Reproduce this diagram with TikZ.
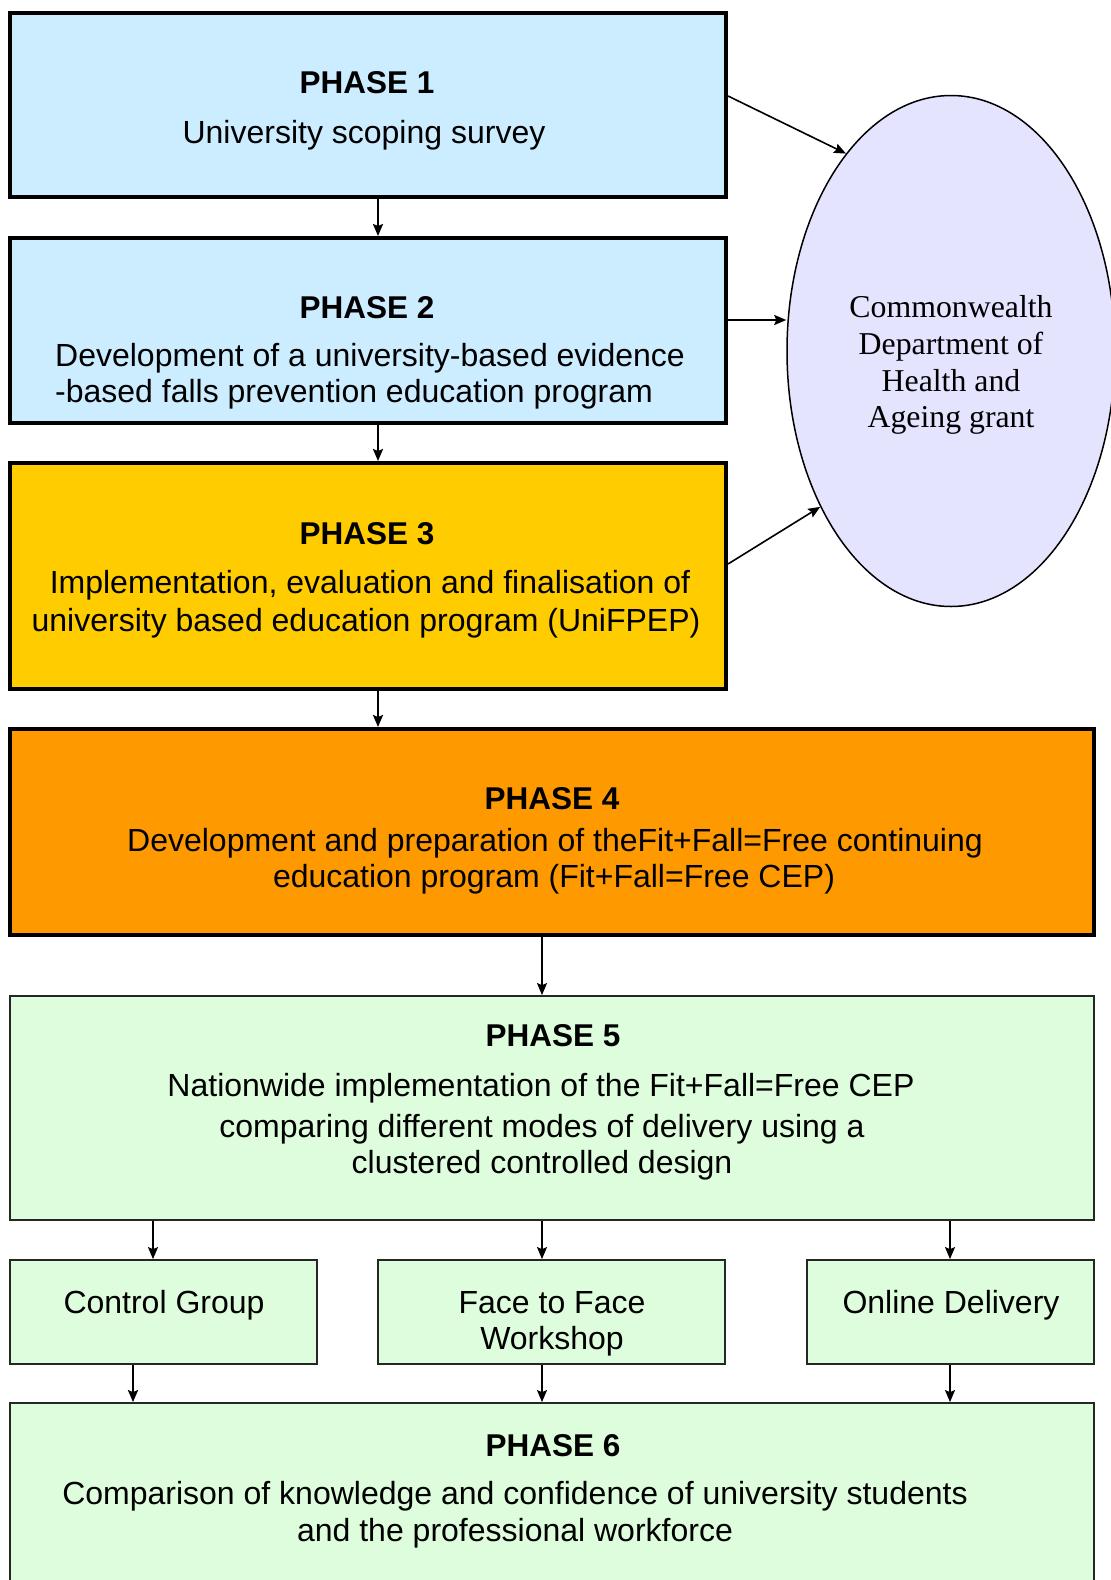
\documentclass[tikz,border=0pt]{standalone}
\usepackage{fontspec}
\setmainfont{Liberation Sans}
\newfontfamily\ellfont{Liberation Serif}
\usetikzlibrary{arrows.meta,shapes.geometric}

\definecolor{phaseblue}{HTML}{CCECFF}
\definecolor{phasegold}{HTML}{FFCC00}
\definecolor{phaseorange}{HTML}{FF9900}
\definecolor{phasegreen}{HTML}{DDFDDD}
\definecolor{grantlilac}{HTML}{E4E4FF}

\tikzset{
  heavybox/.style={draw=black, line width=4pt, rectangle, inner sep=0pt},
  lightbox/.style={draw=black!85, line width=1.8pt, rectangle, inner sep=0pt, fill=phasegreen},
  boxtext/.style={anchor=base, inner sep=0pt, font=\fontsize{32}{36}\selectfont},
  phasetitle/.style={boxtext, font=\fontsize{31.5}{36}\selectfont\bfseries},
  granttext/.style={anchor=base, inner sep=0pt, font=\fontsize{31.8}{36}\selectfont\ellfont},
  arr/.style={line width=2pt, -{Stealth[length=12pt,width=10pt,inset=2pt]}},
  thinarr/.style={line width=1.6pt, -{Stealth[length=12pt,width=10pt,inset=2pt]}},
}

\begin{document}
\begin{tikzpicture}[x=1pt,y=-1pt]
\clip (0,0) rectangle (1111,1580);
\fill[white] (0,0) rectangle (1111,1580);

% phase boxes
\node[heavybox, fill=phaseblue, minimum width=716pt, minimum height=184pt] (p1) at (368,105) {};
\node[heavybox, fill=phaseblue, minimum width=716pt, minimum height=185pt] (p2) at (368,330.5) {};
\node[heavybox, fill=phasegold, minimum width=716pt, minimum height=226pt] (p3) at (368,576) {};
\node[heavybox, fill=phaseorange, minimum width=1084pt, minimum height=206pt] (p4) at (552,832) {};
\node[lightbox, minimum width=1084pt, minimum height=224pt] (p5) at (552,1108) {};
\node[lightbox, minimum width=307pt, minimum height=104pt] (c1) at (163.5,1312) {};
\node[lightbox, minimum width=347pt, minimum height=104pt] (c2) at (551.5,1312) {};
\node[lightbox, minimum width=287pt, minimum height=104pt] (c3) at (950.5,1312) {};
\node[lightbox, minimum width=1084pt, minimum height=217pt] (p6) at (552,1511.5) {};

% funding ellipse
\node[ellipse, draw=black, line width=1.5pt, fill=grantlilac, minimum width=328pt, minimum height=511pt, inner sep=0pt] (ell) at (951,351) {};

% box texts
\node[phasetitle] (t1) at (367,93.5) {PHASE 1};
\node[boxtext] (t1a) at (364,143.5) {University scoping survey};

\node[phasetitle] (t2) at (367,318) {PHASE 2};
\node[boxtext, anchor=base west] (t2a) at (55,366) {Development of a university-based evidence};
\node[boxtext, anchor=base west] (t2b) at (55,402.5) {-based falls prevention education program};

\node[phasetitle] (t3) at (367,544) {PHASE 3};
\node[boxtext] (t3a) at (370,593.5) {Implementation, evaluation and finalisation of};
\node[boxtext] (t3b) at (366,631) {university based education program (UniFPEP)};

\node[phasetitle] (t4) at (552,809) {PHASE 4};
\node[boxtext] (t4a) at (555,851.5) {Development and preparation of theFit+Fall=Free continuing};
\node[boxtext] (t4b) at (554,887.5) {education program (Fit+Fall=Free CEP)};

\node[phasetitle] (t5) at (553,1046.5) {PHASE 5};
\node[boxtext] (t5a) at (541,1096.5) {Nationwide implementation of the Fit+Fall=Free CEP};
\node[boxtext] (t5b) at (542,1137.5) {comparing different modes of delivery using a};
\node[boxtext] (t5c) at (542,1173.5) {clustered controlled design};

\node[boxtext] (tc1) at (164,1313) {Control Group};
\node[boxtext] (tc2a) at (552,1313) {Face to Face};
\node[boxtext] (tc2b) at (552,1349) {Workshop};
\node[boxtext] (tc3) at (951,1313) {Online Delivery};

\node[phasetitle] (t6) at (553,1456.5) {PHASE 6};
\node[boxtext] (t6a) at (515,1504.5) {Comparison of knowledge and confidence of university students};
\node[boxtext] (t6b) at (515,1541.5) {and the professional workforce};

% ellipse text
\node[granttext] (g1) at (951,317.5) {Commonwealth};
\node[granttext] (g2) at (951,354.5) {Department of};
\node[granttext] (g3) at (951,391) {Health and};
\node[granttext] (g4) at (951,427) {Ageing grant};

% flow down the phases
\draw[arr] ([xshift=10pt]p1.south) -- ([xshift=10pt]p2.north);
\draw[arr] ([xshift=10pt]p2.south) -- ([xshift=10pt]p3.north);
\draw[arr] ([xshift=10pt]p3.south) -- ([xshift=-174pt]p4.north);
\draw[thinarr] ([xshift=-10pt]p4.south) -- ([xshift=-10pt]p5.north);

% phase 5 into the three arms
\draw[thinarr] ([xshift=-399pt]p5.south) -- ([xshift=-10.5pt]c1.north);
\draw[thinarr] ([xshift=-10pt]p5.south) -- ([xshift=-9.5pt]c2.north);
\draw[thinarr] ([xshift=398pt]p5.south) -- ([xshift=-0.5pt]c3.north);

% arms into phase 6
\draw[arr, line width=2.6pt] ([xshift=-30.5pt]c1.south) -- ([xshift=-419pt]p6.north);
\draw[thinarr] ([xshift=-9.5pt]c2.south) -- ([xshift=-10pt]p6.north);
\draw[thinarr] ([xshift=-0.5pt]c3.south) -- ([xshift=398pt]p6.north);

% links to the grant
\coordinate (a1) at ([yshift=9pt]p1.east);
\coordinate (a2) at ([yshift=10.5pt]p2.east);
\coordinate (a3) at ([yshift=12pt]p3.east);
\draw[thinarr] (a1) -- (ell.118);
\draw[arr] (a2) -- (a2 -| ell.west);
\draw[thinarr] (a3) -- (ell.230);
\end{tikzpicture}
\end{document}
